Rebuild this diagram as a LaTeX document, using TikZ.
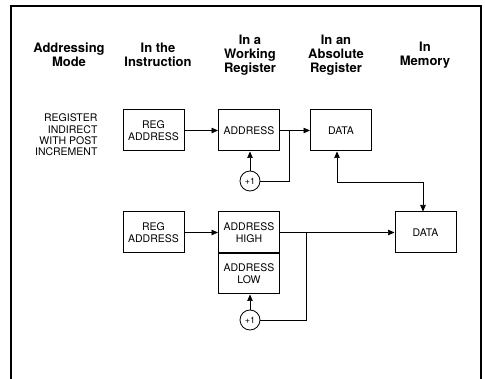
\documentclass[tikz,border=0pt]{standalone}
\usepackage{fontspec}
\setmainfont{TeX Gyre Heros}
\usepackage{tikz}
\usetikzlibrary{positioning}
\usetikzlibrary{arrows.meta}

\tikzset{
  head/.style = {align=center, font=\fontsize{13}{13.8}\selectfont\bfseries},
  regbox/.style = {draw, line width=1pt, minimum width=61pt, minimum height=41pt, inner sep=0pt,
                   align=center, font=\fontsize{10.5}{12}\selectfont},
  incr/.style = {draw, circle, line width=0.8pt, minimum size=20pt, inner sep=0pt,
                 font=\fontsize{9}{10}\selectfont},
  wire/.style = {line width=0.7pt},
  tip/.style = {wire, -{Triangle[length=6.5pt,width=5.5pt]}},
}

\begin{document}
\begin{tikzpicture}[x=1pt,y=1pt]
\useasboundingbox (0.,0.) rectangle (485.,-379.);
\draw [line width=1.1pt] (11.,-379.) -- (11.,-6.) -- (481.,-6.) -- (481.,-379.);

% column heads
\node [head] (hdmode)  at (69.,-55.)  {Addressing\\Mode};
\node [head] (hdinstr) at (158.,-55.) {In the\\Instruction};
\node [head] (hdwork)  at (250.,-55.) {In a\\Working\\Register};
\node [head] (hdabs)   at (336.,-55.) {In an\\Absolute\\Register};
\node [head] (hdmem)   at (425.,-55.) {In\\Memory};

% register indirect with post increment
\node [anchor=east, align=right, font=\fontsize{10.5}{11.4}\selectfont] (modeA) at (101.,-135.)
  {REGISTER\\INDIRECT\\WITH POST\\INCREMENT};
\node [regbox] (regA)  at (153.5,-130.5) {REG\\ADDRESS};
\node [regbox] (addrA) at (249.,-130.5) {ADDRESS};
\node [regbox] (dataA) at (341.,-130.5) {DATA};
\node [incr]   (incA)  at (250.,-181.) {+1};
\coordinate (jA) at (289.,-130.5);

\draw [tip] (regA) -- (addrA);
\draw [tip] (addrA) -- (dataA);
\draw [tip] (incA) -- (addrA.south -| incA);
\draw [wire] (incA.east) -| (jA);

% two word address
\node [regbox] (regB)   at (153.5,-232.5) {REG\\ADDRESS};
\node [regbox] (addrhi) at (249.,-232.5) {ADDRESS\\HIGH};
\node [regbox, minimum height=40pt, below=0pt of addrhi] (addrlo) {ADDRESS\\LOW};
\node [regbox] (dataB)  at (425.5,-232.5) {DATA};
\node [incr]   (incB)   at (250.,-320.) {+1};
\coordinate (jB) at (306.,-232.5);

\draw [tip] (regB) -- (addrhi);
\draw [tip] (addrhi) -- (dataB);
\draw [tip] (incB) -- (addrlo.south -| incB);
\draw [wire] (incB.east) -| (jB);

% memory access
\draw [wire, {Triangle[length=6.5pt,width=5.5pt]}-{Triangle[length=6.5pt,width=5.5pt]}]
  ([xshift=-4pt]dataA.south) -- ++(0.,-31.) -| ([xshift=-2.5pt]dataB.north);
\end{tikzpicture}
\end{document}
